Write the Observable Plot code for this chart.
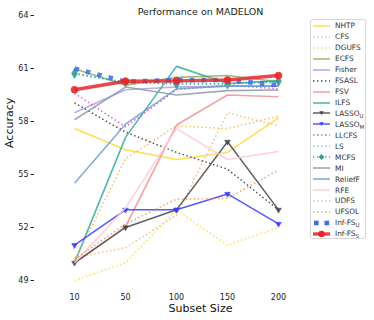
<!DOCTYPE html>
<html><head><meta charset="utf-8">
<script src="https://cdn.jsdelivr.net/npm/d3@7"></script>
<script src="https://cdn.jsdelivr.net/npm/@observablehq/plot@0.6"></script>
<style>
body{margin:0;background:#fff;font-family:"DejaVu Sans",sans-serif;}
#wrap{position:relative;width:374px;height:320px;}
#legend{position:absolute;left:310px;top:19px;width:56px;height:220px;border:1px solid #d6d6d6;border-radius:3px;background:rgba(255,255,255,0.85);box-sizing:border-box;padding-top:0.5px;}
.item{height:10.95px;display:flex;align-items:center;font-size:7.4px;color:#333;white-space:nowrap;}
.item svg{margin-left:2px;margin-right:5px;flex:none;}
.item sub{font-size:5.5px;vertical-align:-1.5px;line-height:0;}
</style></head>
<body><div id="wrap"><div id="chart"></div><div id="legend"></div></div>
<script>
const subsetSizes = [10, 50, 100, 150, 200];
const yTicks = [49, 52, 55, 58, 61, 64];
const methodNames = ["NHTP","CFS","DGUFS","ECFS","Fisher","FSASL","FSV","ILFS","LASSO_U","LASSO_M","LLCFS","LS","MCFS","MI","ReliefF","RFE","UDFS","UFSOL","Inf-FS_U","Inf-FS_S"];
const NHTP    = [57.6, 56.4, 55.85, 56.25, 58.2];
const CFS     = [50.3, 50.85, 52.7, 58.5, 57.75];
const DGUFS   = [49.0, 50.0, 53.0, 51.0, 52.0];
const ECFS    = [60.98, 60.05, 60.5, 60.6, 60.25];
const Fisher  = [58.5, 59.8, 59.95, 60.0, 60.0];
const FSASL   = [59.05, 57.4, 56.25, 55.3, 53.0];
const FSV     = [50.0, 52.05, 57.8, 59.5, 59.4];
const ILFS    = [50.0, 57.1, 61.12, 60.15, 60.3];
const LASSO_U = [50.0, 52.0, 53.0, 56.85, 53.0];
const LASSO_M = [51.0, 53.0, 53.0, 53.9, 52.2];
const LLCFS   = [59.6, 57.7, 59.8, 60.05, 59.85];
const LS      = [60.7, 60.2, 60.2, 60.15, 60.2];
const MCFS    = [60.72, 60.22, 60.12, 60.12, 60.28];
const MI      = [58.1, 59.95, 59.5, 59.75, 59.78];
const ReliefF = [54.5, 57.85, 59.85, 60.0, 60.0];
const RFE     = [50.0, 53.1, 57.6, 55.85, 56.3];
const UDFS    = [50.1, 55.9, 57.75, 57.6, 58.3];
const UFSOL   = [50.2, 52.2, 53.6, 53.65, 55.25];
const InfFS_U = [61.0, 60.25, 60.35, 60.35, 60.05];
const InfFS_S = [59.8, 60.28, 60.3, 60.35, 60.6];

const seriesValues = [NHTP,CFS,DGUFS,ECFS,Fisher,FSASL,FSV,ILFS,LASSO_U,LASSO_M,LLCFS,LS,MCFS,MI,ReliefF,RFE,UDFS,UFSOL,InfFS_U,InfFS_S];

// styles (separate from data)
const dot = "1.5,2.5";
const styles = {
  "NHTP":   {c:"#ffd73a", w:1.5},
  "CFS":    {c:"#f8b07a", w:1.5, d:dot},
  "DGUFS":  {c:"#ffdc30", w:1.5, d:dot},
  "ECFS":   {c:"#8fb058", w:1.6},
  "Fisher": {c:"#b39ce6", w:1.6},
  "FSASL":  {c:"#333333", w:1.5, d:dot},
  "FSV":    {c:"#f29090", w:1.6},
  "ILFS":   {c:"#35a9a2", w:1.6},
  "LASSO_U":{c:"#444444", w:1.5, m:"triangle", rot:180, r:2.1},
  "LASSO_M":{c:"#3a3aff", w:1.5, m:"triangle", rot:180, r:2.1},
  "LLCFS":  {c:"#e03fe0", w:1.5, d:dot},
  "LS":     {c:"#3fd4d4", w:1.5, d:dot},
  "MCFS":   {c:"#2e9c90", w:1.5, d:dot, m:"diamond", r:3.1},
  "MI":     {c:"#8c9aa8", w:1.6},
  "ReliefF":{c:"#6f9fcc", w:1.6},
  "RFE":    {c:"#ffc8d2", w:1.6},
  "UDFS":   {c:"#f5b54c", w:1.5, d:dot},
  "UFSOL":  {c:"#e09a5c", w:1.5, d:dot},
  "Inf-FS_U":{c:"#3d6fe2", w:4.6, d:"4.6,7.1"},
  "Inf-FS_S":{c:"#e8262a", w:3.4, m:"circle", r:3.5}
};

const rows = [];
methodNames.forEach((m, i) => subsetSizes.forEach((s, j) => rows.push({method: m, size: s, value: seriesValues[i][j]})));

const marks = [];
methodNames.forEach(m => {
  const st = styles[m];
  const data = rows.filter(r => r.method === m);
  marks.push(Plot.line(data, {x: "size", y: "value", stroke: st.c, strokeWidth: st.w,
    strokeDasharray: st.d, strokeOpacity: 0.85, strokeLinecap: "butt", strokeLinejoin: "round"}));
  if (st.m) {
    marks.push(Plot.dot(data, {x: "size", y: "value", symbol: st.m, r: st.r, fill: st.c,
      stroke: st.c, strokeWidth: 0.5, rotate: st.rot || 0, fillOpacity: 0.9}));
  }
});

const chart = Plot.plot({
  width: 374, height: 320,
  marginLeft: 34, marginRight: 4, marginTop: 15, marginBottom: 40,
  style: {fontFamily: "DejaVu Sans, sans-serif", background: "transparent", overflow: "visible"},
  x: {type: "point", domain: subsetSizes, range: [47, 305]},
  y: {domain: [49, 64], range: [280, 15]},
  marks: [
    Plot.axisY({ticks: yTicks, tickSize: 3.5, tickPadding: 2.5, fontSize: 8, label: null, color: "#222"}),
    Plot.axisX({tickSize: 0, tickPadding: 14, fontSize: 8, label: null, color: "#222"}),
    Plot.text(["Accuracy"], {frameAnchor: "left", rotate: -90, dx: -25, dy: 0, fontSize: 11, fill: "#111"}),
    Plot.text(["Subset Size"], {frameAnchor: "bottom", dy: 31, dx: -2, fontSize: 11, fill: "#111"}),
    Plot.text(["Performance on MADELON"], {frameAnchor: "top", dy: -7, dx: -2, fontSize: 9.5, fill: "#222"}),
    ...marks
  ]
});
document.getElementById("chart").appendChild(chart);

// legend
const legend = document.getElementById("legend");
const labelHtml = {
  "LASSO_U": "LASSO<sub>U</sub>", "LASSO_M": "LASSO<sub>M</sub>",
  "Inf-FS_U": "Inf-FS<sub>U</sub>", "Inf-FS_S": "Inf-FS<sub>S</sub>"
};
methodNames.forEach(m => {
  const st = styles[m];
  const item = document.createElement("div");
  item.className = "item";
  let sw = "";
  if (m === "Inf-FS_U") {
    sw = `<rect x="1" y="1.7" width="4.6" height="4.6" fill="${st.c}"/><rect x="11.5" y="1.7" width="4.6" height="4.6" fill="${st.c}"/>`;
  } else {
    sw = `<line x1="0" y1="4" x2="17" y2="4" stroke="${st.c}" stroke-width="${Math.min(st.w,3.4)}" ${st.d ? `stroke-dasharray="${st.d}"` : ""} stroke-opacity="0.85"/>`;
    if (st.m === "triangle") sw += `<path d="M6.3,2.3 L10.7,2.3 L8.5,6 Z" fill="${st.c}"/>`;
    if (st.m === "diamond") sw += `<path d="M8.5,0.9 L11.3,4 L8.5,7.1 L5.7,4 Z" fill="${st.c}"/>`;
    if (st.m === "circle") sw += `<circle cx="8.5" cy="4" r="3.2" fill="${st.c}"/>`;
  }
  item.innerHTML = `<svg width="17" height="8">${sw}</svg><span>${labelHtml[m] || m}</span>`;
  legend.appendChild(item);
});
</script>
</body></html>
